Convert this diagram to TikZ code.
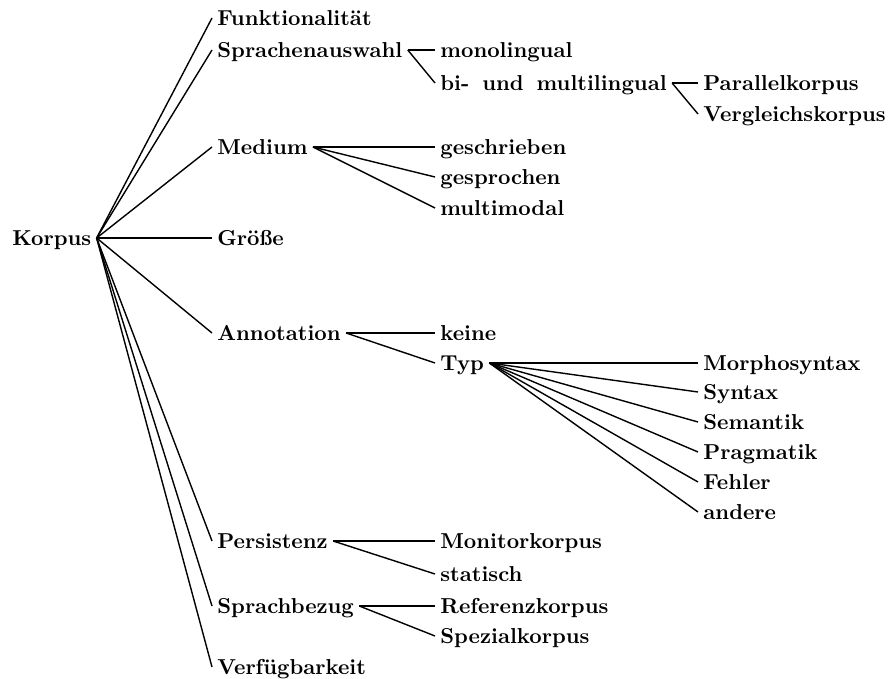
\documentclass[tikz,border=0pt]{standalone}
\usepackage{fontspec}
\begin{document}
\begin{tikzpicture}[x=0.5pt,y=-0.5pt,
  lbl/.style={anchor=west, inner xsep=2.5pt, inner ysep=0pt,
    font=\fontsize{10.8}{13}\selectfont\bfseries, text height=7.4pt, text depth=0pt},
  edge/.style={line width=0.7pt}]
\useasboundingbox (0,0) rectangle (888,679);
% root
\node[lbl] (K) at (7,238) {Korpus};
% level 1
\node[lbl] (f1) at (212,18) {Funktionalität};
\node[lbl] (s1) at (212,50) {Sprachenauswahl};
\node[lbl] (m1) at (212,147) {Medium};
\node[lbl] (g1) at (212,238) {Größe};
\node[lbl] (a1) at (212,333) {Annotation};
\node[lbl] (p1) at (212,541) {Persistenz};
\node[lbl] (b1) at (212,606) {Sprachbezug};
\node[lbl] (v1) at (212,667) {Verfügbarkeit};
% level 2
\node[lbl] (mono) at (435,50) {monolingual};
\node[lbl] (bimu) at (435,83) {bi-\hspace{0.6em}und\hspace{0.6em}multilingual};
\node[lbl] (ges) at (435,147) {geschrieben};
\node[lbl] (gsp) at (435,177) {gesprochen};
\node[lbl] (mm) at (435,208) {multimodal};
\node[lbl] (kei) at (435,333) {keine};
\node[lbl] (typ) at (435,363) {Typ};
\node[lbl] (mon) at (435,541) {Monitorkorpus};
\node[lbl] (sta) at (435,574) {statisch};
\node[lbl] (ref) at (435,606) {Referenzkorpus};
\node[lbl] (spz) at (435,636) {Spezialkorpus};
% level 3
\node[lbl] (par) at (698,83) {Parallelkorpus};
\node[lbl] (ver) at (698,114) {Vergleichskorpus};
\node[lbl] (ms) at (698,363) {Morphosyntax};
\node[lbl] (syn) at (698,392) {Syntax};
\node[lbl] (sem) at (698,422) {Semantik};
\node[lbl] (pra) at (698,452) {Pragmatik};
\node[lbl] (feh) at (698,482) {Fehler};
\node[lbl] (and) at (698,512) {andere};
% connectors
\foreach \c in {f1,s1,m1,g1,a1,p1,b1,v1} \draw[edge] (K.east) -- (\c.west);
\foreach \c in {mono,bimu} \draw[edge] (s1.east) -- (\c.west);
\foreach \c in {par,ver} \draw[edge] (bimu.east) -- (\c.west);
\foreach \c in {ges,gsp,mm} \draw[edge] (m1.east) -- (\c.west);
\foreach \c in {kei,typ} \draw[edge] (a1.east) -- (\c.west);
\foreach \c in {ms,syn,sem,pra,feh,and} \draw[edge] (typ.east) -- (\c.west);
\foreach \c in {mon,sta} \draw[edge] (p1.east) -- (\c.west);
\foreach \c in {ref,spz} \draw[edge] (b1.east) -- (\c.west);
\end{tikzpicture}
\end{document}
